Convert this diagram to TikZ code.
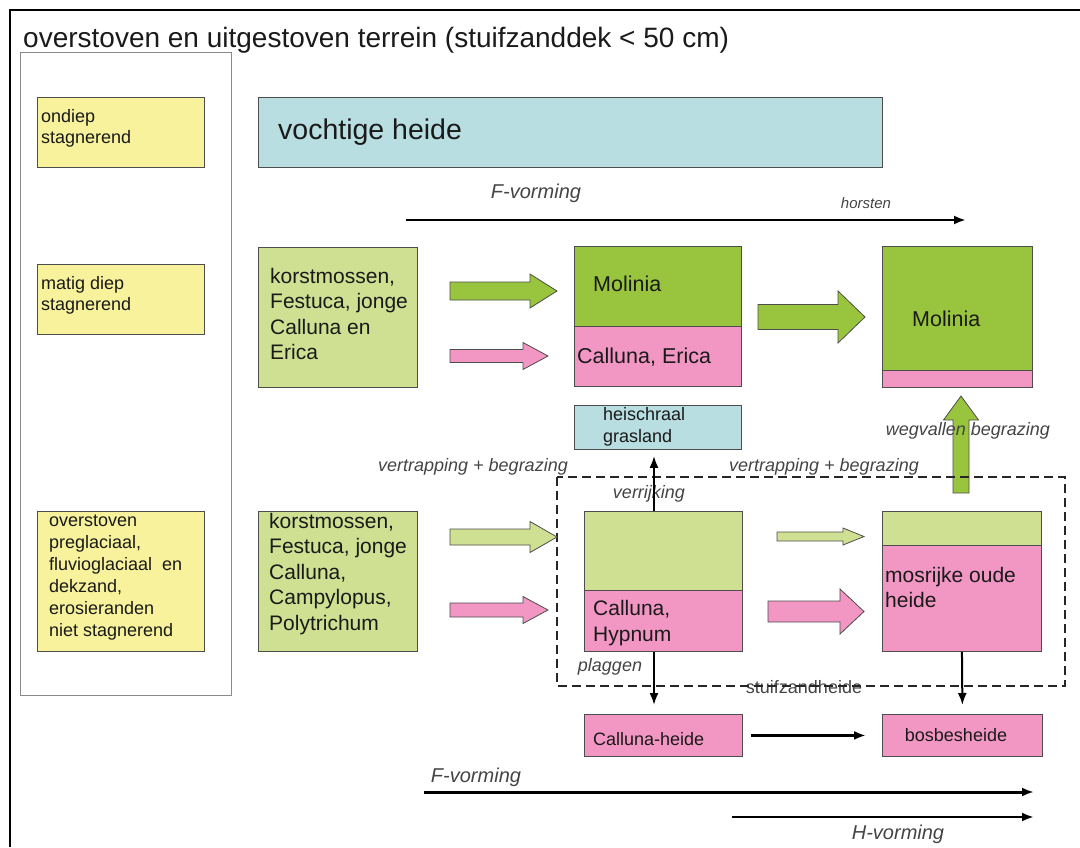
\documentclass[tikz,border=0pt]{standalone}
\usepackage{fontspec}
\setmainfont{Liberation Sans}
\usetikzlibrary{arrows.meta, positioning}

\definecolor{soilyellow}{HTML}{F7F29B}
\definecolor{wetblue}{HTML}{B8DEE1}
\definecolor{mossgreen}{HTML}{CFE092}
\definecolor{grassgreen}{HTML}{99C43D}
\definecolor{heathpink}{HTML}{F296C3}
\definecolor{boxgray}{HTML}{4D4D4D}
\definecolor{panelgray}{HTML}{8A8A8A}
\definecolor{labelgray}{HTML}{444444}
\definecolor{inkblack}{HTML}{1A1A1A}

\newcommand{\fsz}[2]{\fontsize{#1}{#2}\selectfont}

% block arrow pointing right: x start, x tip, y mid, body half, head half, head length, colour
\newcommand{\blockright}[7]{%
  \filldraw[fill=#7, draw=boxgray, line width=0.8pt]
    (#1,#3-#4) -- (#2-#6,#3-#4) -- (#2-#6,#3-#5) -- (#2,#3)
    -- (#2-#6,#3+#5) -- (#2-#6,#3+#4) -- (#1,#3+#4) -- cycle;}
% block arrow pointing up: x mid, y foot, y tip, body half, head half, head length, colour
\newcommand{\blockup}[7]{%
  \filldraw[fill=#7, draw=boxgray, line width=0.8pt]
    (#1-#4,#2) -- (#1-#4,#3+#6) -- (#1-#5,#3+#6) -- (#1,#3)
    -- (#1+#5,#3+#6) -- (#1+#4,#3+#6) -- (#1+#4,#2) -- cycle;}

\tikzset{
  box/.style={draw=boxgray, line width=0.9pt, inner sep=0pt, anchor=north west},
  boxtext/.style={inner sep=0pt, anchor=north west, align=left, text=inkblack},
  lbl/.style={inner sep=0pt, anchor=base, text=labelgray, font=\fsz{18}{22}\itshape},
  flow/.style={-{Latex[length=12pt,width=9pt]}, line width=2pt},
}

\begin{document}
\begin{tikzpicture}[x=1pt, y=-1pt]

\useasboundingbox (0,0) rectangle (1080,847);

% Frame and title
\draw[line width=2.5pt] (10,847) -- (10,10) -- (1080,10);
\node[anchor=base west, inner sep=0pt, text=inkblack, font=\fsz{28}{32}] (title) at (23,47)
  {overstoven en uitgestoven terrein (stuifzanddek < 50 cm)};

% Soil column
\node[box, draw=panelgray, line width=0.8pt, minimum width=211pt, minimum height=643pt] (soil) at (20,52) {};
\node[box, fill=soilyellow, minimum width=167pt, minimum height=70pt] (ondiep) at (37,97) {};
\node[boxtext, font=\fsz{18}{21}] at (41,109) {ondiep\\stagnerend};
\node[box, fill=soilyellow, minimum width=167pt, minimum height=70pt] (matig) at (37,264) {};
\node[boxtext, font=\fsz{18}{21}] at (41,276) {matig diep\\stagnerend};
\node[box, fill=soilyellow, minimum width=167pt, minimum height=140pt] (overst) at (37,511) {};
\node[boxtext, font=\fsz{18}{22}] at (49,515)
  {overstoven\\preglaciaal,\\fluvioglaciaal\ \ en\\dekzand,\\erosieranden\\niet stagnerend};

% Wet heath
\node[box, fill=wetblue, minimum width=624pt, minimum height=70pt] (vochtig) at (258,97) {};
\node[anchor=base west, inner sep=0pt, text=inkblack, font=\fsz{28.5}{32}] at (278,139) {vochtige heide};

% F-vorming (top)
\coordinate (ftopa) at (406,220);
\coordinate (ftopb) at (966,220);
\draw[flow, line width=2.8pt] (ftopa) -- (ftopb);
\node[lbl, font=\fsz{20}{24}\itshape] at (536,198) {F-vorming};
\node[lbl, font=\fsz{15}{18}\itshape] at (866,208) {horsten};

% Middle row
\node[box, fill=mossgreen, minimum width=159pt, minimum height=140pt] (kors1) at (258,247) {};
\node[boxtext, font=\fsz{21}{25.5}] at (270,268) {korstmossen,\\Festuca, jonge\\Calluna en\\Erica};
\blockright{450}{557}{291}{9}{17}{27}{grassgreen}
\blockright{450}{548}{356}{6.5}{13.5}{25}{heathpink}
\node[box, fill=grassgreen, minimum width=167pt, minimum height=80pt] (moltop) at (574,246) {};
\node[box, fill=heathpink, minimum width=167pt, minimum height=60pt] (molbot) at (574,326) {};
\node[anchor=base west, inner sep=0pt, text=inkblack, font=\fsz{21.5}{26}] at (593,291) {Molinia};
\node[anchor=base west, inner sep=0pt, text=inkblack, font=\fsz{21.5}{26}] at (577,363) {Calluna, Erica};
\blockright{758}{865}{317}{12.5}{26}{27}{grassgreen}
\node[box, fill=grassgreen, minimum width=150pt, minimum height=124pt] (molrtop) at (882,246) {};
\node[box, fill=heathpink, minimum width=150pt, minimum height=17pt] (molrbot) at (882,370) {};
\node[anchor=base west, inner sep=0pt, text=inkblack, font=\fsz{21.5}{26}] at (912,326) {Molinia};

% Grassland
\node[box, fill=wetblue, minimum width=167pt, minimum height=44pt] (heischraal) at (574,405) {};
\node[boxtext, font=\fsz{18}{22}] at (603,407) {heischraal\\grasland};

% Labels between rows
\node[lbl] at (473,471) {vertrapping + begrazing};
\node[lbl] at (824,471) {vertrapping + begrazing};
\blockup{961}{493}{396}{8}{17.5}{24}{grassgreen}
\node[lbl] at (968,435) {wegvallen begrazing};

% Drift sand heath (dashed)
\node[lbl] at (649,498) {verrijking};
\node[lbl] at (610,671) {plaggen};
\node[inner sep=0pt, anchor=base, text=labelgray, font=\fsz{18}{22}] at (804,693) {stuifzandheide};
\draw[dash pattern=on 9pt off 5pt, line width=1.4pt, draw=black!85] (557,477) rectangle (1065,686);

% Lower row
\node[box, fill=mossgreen, minimum width=159pt, minimum height=140pt] (kors2) at (258,511) {};
\node[boxtext, font=\fsz{21}{25.5}] at (269,513)
  {korstmossen,\\Festuca, jonge\\Calluna,\\Campylopus,\\Polytrichum};
\blockright{450}{557}{537}{8}{15.5}{27}{mossgreen}
\blockright{450}{548}{610}{7}{13.5}{25}{heathpink}
\node[box, fill=mossgreen, minimum width=158pt, minimum height=79pt] (chtop) at (584,511) {};
\node[box, fill=heathpink, minimum width=158pt, minimum height=61pt] (chbot) at (584,590) {};
\node[boxtext, font=\fsz{21}{26}] at (593,600) {Calluna,\\Hypnum};
\blockright{777}{864}{536.5}{4.5}{8.5}{21}{mossgreen}
\blockright{768}{864}{611.5}{10.5}{22.5}{24}{heathpink}
\node[box, fill=mossgreen, minimum width=159pt, minimum height=34pt] (mostop) at (882,511) {};
\node[box, fill=heathpink, minimum width=159pt, minimum height=106pt] (mosbot) at (882,545) {};
\node[boxtext, font=\fsz{21}{25}] at (885,567) {mosrijke oude\\heide};

% Vertical links
\coordinate (linkx) at (654,0);
\draw[flow, shorten >=6pt] (linkx |- chtop.north) -- (linkx |- heischraal.south);

% End stages
\node[box, fill=heathpink, minimum width=158pt, minimum height=42pt] (callheide) at (584,714) {};
\node[anchor=base west, inner sep=0pt, text=inkblack, font=\fsz{18}{22}] at (593,745) {Calluna-heide};
\node[box, fill=heathpink, minimum width=160pt, minimum height=42pt] (bosbes) at (882,714) {};
\node[anchor=base, inner sep=0pt, text=inkblack, font=\fsz{18}{22}] at (956,741) {bosbesheide};
\draw[flow, shorten >=9pt] (linkx |- chbot.south) -- (linkx |- callheide.north);
\draw[flow, shorten >=9pt] (mosbot.south) -- (bosbes.north);
\draw[flow, line width=3pt, shorten <=8pt, shorten >=16pt] (callheide.east) -- (bosbes.west);

% F- and H-vorming (bottom)
\coordinate (fbota) at (424,792);
\coordinate (fbotb) at (1034,792);
\draw[flow, line width=3pt] (fbota) -- (fbotb);
\node[lbl, font=\fsz{20}{24}\itshape] at (476,782) {F-vorming};
\coordinate (hbota) at (732,817);
\coordinate (hbotb) at (1034,817);
\draw[flow, line width=2.4pt] (hbota) -- (hbotb);
\node[lbl, font=\fsz{20}{24}\itshape] at (898,839) {H-vorming};

\end{tikzpicture}
\end{document}
